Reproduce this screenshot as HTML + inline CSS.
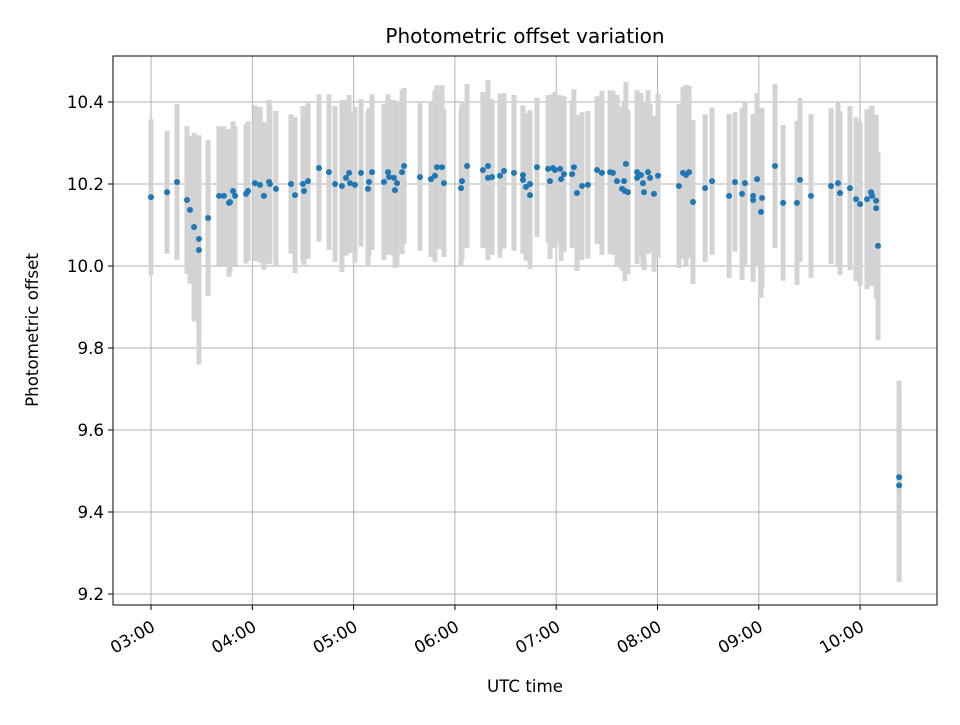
<!DOCTYPE html>
<html><head><meta charset="utf-8"><style>
body{margin:0;background:#fff;font-family:"Liberation Sans","DejaVu Sans",sans-serif}
svg text{font-family:"DejaVu Sans","Liberation Sans",sans-serif}
</style></head><body>
<svg id="c" width="960" height="720" viewBox="0 0 960 720">
<rect width="960" height="720" fill="#fff"/>
<text x="525" y="43" text-anchor="middle" font-size="20">Photometric offset variation</text>
<g id="grid"></g><g id="bars"></g><g id="dots"></g><g id="axes"></g>
<rect x="113" y="56" width="824" height="549" fill="none" stroke="#000" stroke-width="1"/>
<text x="525" y="692" text-anchor="middle" font-size="16.7">UTC time</text>
<text x="0" y="0" transform="translate(38,330) rotate(-90)" text-anchor="middle" font-size="16.7">Photometric offset</text>
</svg>
<script>
const minutesSince0300=[0,9.5,15.4,21.3,23.1,25.5,28.4,28.4,33.8,40.3,43.2,46.2,46.8,48.6,49.8,56.3,57.5,61.6,64.6,66.9,69.9,70.5,74.0,82.9,85.3,90.0,90.6,93.0,99.5,105.4,109.0,113.1,115.5,117.3,117.9,120.8,124.4,128.5,129.1,130.9,138.0,140.4,141.0,143.9,144.5,145.7,148.7,149.9,
159.3,165.8,168.2,169.4,172.4,173.5,184.2,183.6,187.2,196.6,199.6,199.6,202.0,206.7,209.1,215.0,220.3,220.3,222.1,224.5,224.5,228.6,235.2,236.3,238.1,239.3,242.3,242.9,244.6,249.4,250.5,252.3,255.3,258.8,264.2,267.1,271.9,273.6,276.0,279.0,280.2,281.3,280.7,282.5,287.9,287.9,290.2,291.4,292.0,294.4,295.6,297.9,300.3,
312.7,315.1,316.9,318.7,321.0,328.2,332.3,342.4,345.9,350.1,351.8,356.6,356.6,359.0,361.9,361.3,369.6,374.4,382.6,384.4,390.9,402.8,406.9,408.1,414.0,417.6,420.0,424.1,426.5,427.1,429.5,429.5,430.6,443.1,443.1];
const offsets=[10.168,10.180,10.205,10.161,10.137,10.095,10.066,10.039,10.117,10.171,10.171,10.154,10.156,10.183,10.171,10.176,10.183,10.202,10.198,10.171,10.205,10.200,10.188,10.200,10.173,10.200,10.183,10.207,10.239,10.229,10.200,10.195,10.215,10.227,10.202,10.198,10.227,10.188,10.205,10.229,10.205,10.229,10.217,10.215,10.185,10.202,10.229,10.244,
10.217,10.212,10.220,10.241,10.241,10.202,10.207,10.190,10.244,10.234,10.244,10.215,10.217,10.220,10.232,10.227,10.222,10.210,10.193,10.200,10.173,10.241,10.237,10.207,10.239,10.234,10.237,10.212,10.224,10.224,10.241,10.178,10.195,10.198,10.234,10.227,10.229,10.227,10.207,10.188,10.207,10.249,10.183,10.180,10.215,10.229,10.222,10.202,10.180,10.229,10.215,10.176,10.220,
10.195,10.227,10.222,10.229,10.156,10.190,10.207,10.171,10.205,10.176,10.202,10.171,10.161,10.212,10.166,10.132,10.244,10.154,10.154,10.210,10.171,10.195,10.202,10.178,10.190,10.163,10.151,10.163,10.180,10.171,10.159,10.141,10.049,9.485,9.465];
const errors=[0.19,0.15,0.19,0.18,0.18,0.23,0.24,0.28,0.19,0.17,0.17,0.18,0.17,0.17,0.17,0.17,0.17,0.19,0.19,0.18,0.2,0.19,0.19,0.17,0.19,0.19,0.18,0.19,0.18,0.19,0.19,0.21,0.19,0.19,0.17,0.19,0.18,0.19,0.18,0.19,0.19,0.19,0.19,0.19,0.19,0.2,0.2,0.19,
0.18,0.19,0.21,0.2,0.2,0.18,0.19,0.19,0.2,0.19,0.21,0.2,0.19,0.2,0.19,0.19,0.17,0.18,0.18,0.18,0.18,0.17,0.18,0.19,0.18,0.19,0.18,0.2,0.19,0.18,0.19,0.19,0.18,0.18,0.18,0.2,0.2,0.2,0.21,0.2,0.19,0.2,0.22,0.2,0.21,0.2,0.2,0.2,0.19,0.2,0.18,0.19,0.2,
0.2,0.21,0.22,0.21,0.2,0.18,0.18,0.2,0.17,0.21,0.2,0.2,0.2,0.21,0.22,0.21,0.2,0.19,0.2,0.2,0.2,0.19,0.2,0.2,0.2,0.2,0.2,0.22,0.21,0.22,0.21,0.22,0.23,0.235,0.235];
const xTickLabels=["03:00","04:00","05:00","06:00","07:00","08:00","09:00","10:00"];
const yTickLabels=["9.2","9.4","9.6","9.8","10.0","10.2","10.4"];
const NS="http://www.w3.org/2000/svg";
const xs=m=>151+m*101.3/60;
const ys=v=>102+(10.4-v)*410;
function mk(p,tag,at){const e=document.createElementNS(NS,tag);for(const k in at)e.setAttribute(k,at[k]);document.getElementById(p).appendChild(e);return e;}
xTickLabels.forEach((l,i)=>{const x=xs(i*60);
 const g=mk('grid','line',{x1:x,x2:x,y1:56,y2:605,stroke:'#b0b0b0','stroke-width':1});
 
 
 const t=mk('axes','line',{x1:x,x2:x,y1:605,y2:610,stroke:'#000'});
 
 
 const tx=mk('axes','text',{x:0,y:0,transform:`translate(${x+3},${626}) rotate(-30)`,'text-anchor':'end','font-size':16.7,'dominant-baseline':'middle'});
 tx.textContent=l;
 
 
});
yTickLabels.forEach(l=>{const y=ys(parseFloat(l));
 const g=mk('grid','line',{x1:113,x2:937,y1:y,y2:y,stroke:'#b0b0b0','stroke-width':1});
 
 
 const t=mk('axes','line',{x1:108,x2:113,y1:y,y2:y,stroke:'#000'});
 
 
 const tx=mk('axes','text',{x:104,y:y+6,'text-anchor':'end','font-size':16.7});
 tx.textContent=l;
 
 
});
minutesSince0300.forEach((m,i)=>{const x=xs(m),v=offsets[i],e=errors[i];
 const b=mk('bars','line',{x1:x,x2:x,y1:ys(v+e),y2:ys(v-e),stroke:'#d3d3d3','stroke-width':5});
 
 
});
minutesSince0300.forEach((m,i)=>{
 const d=mk('dots','circle',{cx:xs(m),cy:ys(offsets[i]),r:3,fill:'#1f77b4'});
 
 
});
</script>
</body></html>
